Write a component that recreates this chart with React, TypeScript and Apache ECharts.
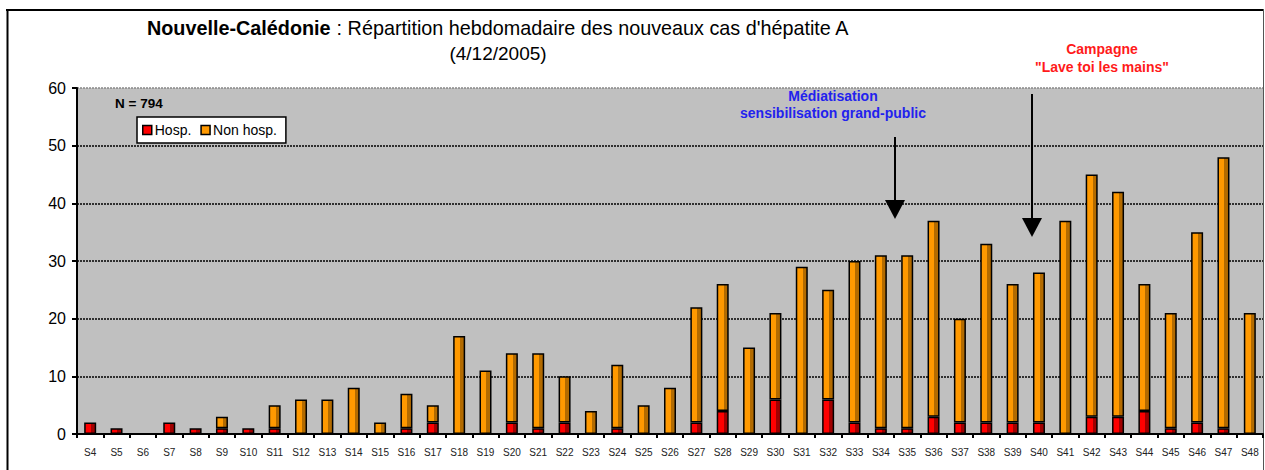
import React, { useEffect, useRef } from 'react';
import * as echarts from 'echarts';

const weeks = ['S4','S5','S6','S7','S8','S9','S10','S11','S12','S13','S14','S15','S16','S17','S18','S19','S20','S21','S22','S23','S24','S25','S26','S27','S28','S29','S30','S31','S32','S33','S34','S35','S36','S37','S38','S39','S40','S41','S42','S43','S44','S45','S46','S47','S48'];
const hosp = [2,1,0,2,1,1,1,1,0,0,0,0,1,2,0,0,2,1,2,0,1,0,0,2,4,0,6,0,6,2,1,1,3,2,2,2,2,0,3,3,4,1,2,1,0];
const nonHosp = [0,0,0,0,0,2,0,4,6,6,8,2,6,3,17,11,12,13,8,4,11,5,8,20,22,15,15,29,19,28,30,30,34,18,31,24,26,37,42,39,22,20,33,47,21];
const yTicks = [0, 10, 20, 30, 40, 50, 60];

const FONT = '"Liberation Sans", Arial, sans-serif';

function grad(c1: string, c2: string) {
  return new echarts.graphic.LinearGradient(0, 0, 1, 0, [
    { offset: 0, color: c1 },
    { offset: 0.58, color: c1 },
    { offset: 0.58, color: c2 },
    { offset: 1, color: c2 },
  ]);
}

export default function App() {
  const ref = useRef<HTMLDivElement>(null);
  useEffect(() => {
    if (!ref.current) return;
    const chart = echarts.init(ref.current, null, { renderer: 'svg' });
    const toData = (arr: number[]) => arr.map((v) => (v === 0 ? '-' : v));
    chart.setOption({
      animation: false,
      backgroundColor: '#ffffff',
      textStyle: { fontFamily: FONT },
      grid: {
        left: 77, top: 88, right: 2, bottom: 36,
        show: true, backgroundColor: '#c0c0c0', borderWidth: 0,
      },
      legend: {
        left: 137, top: 117,
        orient: 'horizontal',
        backgroundColor: '#ffffff', borderColor: '#000', borderWidth: 1.5,
        padding: [6, 9, 6, 5],
        itemWidth: 9, itemHeight: 9, itemGap: 9,
        icon: 'rect',
        textStyle: { fontSize: 14, color: '#000', fontFamily: FONT, padding: [0, 0, 0, -2] },
        data: [
          { name: 'Hosp.', itemStyle: { color: '#ff0000', borderColor: '#000', borderWidth: 1.5 } },
          { name: 'Non hosp.', itemStyle: { color: '#ff9900', borderColor: '#000', borderWidth: 1.5 } },
        ],
      },
      xAxis: {
        type: 'category',
        data: weeks,
        axisLine: { lineStyle: { color: '#000', width: 2 } },
        axisTick: { show: true, interval: 0, length: 4, lineStyle: { color: '#000', width: 2 } },
        axisLabel: { interval: 0, fontSize: 10, color: '#222', margin: 13, fontFamily: FONT },
      },
      yAxis: {
        type: 'value',
        min: yTicks[0], max: yTicks[yTicks.length - 1], interval: 10,
        axisLine: { show: true, lineStyle: { color: '#000', width: 2 } },
        axisTick: { show: true, length: 5, lineStyle: { color: '#000', width: 2 } },
        axisLabel: { fontSize: 16, color: '#000', margin: 11, fontFamily: FONT },
        splitLine: {
          show: true,
          lineStyle: { color: ['#000', '#000', '#000', '#000', '#000', '#000', '#888'], type: [2, 1], width: 1.5 },
        },
      },
      series: [
        {
          name: 'Hosp.', type: 'bar', stack: 'total', barWidth: 12,
          data: toData(hosp),
          itemStyle: { color: grad('#ff0000', '#a00000'), borderColor: '#000', borderWidth: 1.5 },
        },
        {
          name: 'Non hosp.', type: 'bar', stack: 'total', barWidth: 12,
          data: toData(nonHosp),
          itemStyle: { color: grad('#ff9900', '#b36b00'), borderColor: '#000', borderWidth: 1.5 },
        },
      ],
      graphic: [
        { type: 'line', shape: { x1: 6, y1: 10, x2: 1264, y2: 10 }, style: { stroke: '#000', lineWidth: 2 } },
        { type: 'line', shape: { x1: 7.5, y1: 9, x2: 7.5, y2: 470 }, style: { stroke: '#000', lineWidth: 2 } },
        { type: 'line', shape: { x1: 1263.5, y1: 9, x2: 1263.5, y2: 470 }, style: { stroke: '#555', lineWidth: 1 } },
        {
          type: 'text', x: 498, y: 28,
          style: {
            text: "{b|Nouvelle-Calédonie} : Répartition hebdomadaire des nouveaux cas d'hépatite A",
            rich: { b: { fontWeight: 'bold', fontSize: 19.8, fontFamily: FONT, fill: '#000' } },
            font: '19.8px ' + FONT, fill: '#000', textAlign: 'center', textVerticalAlign: 'middle',
          },
        },
        {
          type: 'text', x: 498, y: 53,
          style: { text: '(4/12/2005)', font: '19px ' + FONT, fill: '#000', textAlign: 'center', textVerticalAlign: 'middle' },
        },
        {
          type: 'text', x: 115, y: 103,
          style: { text: 'N = 794', font: 'bold 13.5px ' + FONT, fill: '#000', textAlign: 'left', textVerticalAlign: 'middle' },
        },
        {
          type: 'text', x: 833, y: 96,
          style: { text: 'Médiatisation', font: 'bold 14px ' + FONT, fill: '#2222ee', textAlign: 'center', textVerticalAlign: 'middle' },
        },
        {
          type: 'text', x: 833, y: 113,
          style: { text: 'sensibilisation grand-public', font: 'bold 14px ' + FONT, fill: '#2222ee', textAlign: 'center', textVerticalAlign: 'middle' },
        },
        {
          type: 'text', x: 1102, y: 49,
          style: { text: 'Campagne', font: 'bold 14px ' + FONT, fill: '#ff1a1a', textAlign: 'center', textVerticalAlign: 'middle' },
        },
        {
          type: 'text', x: 1102, y: 67,
          style: { text: '"Lave toi les mains"', font: 'bold 14px ' + FONT, fill: '#ff1a1a', textAlign: 'center', textVerticalAlign: 'middle' },
        },
        { type: 'line', shape: { x1: 895, y1: 137, x2: 895, y2: 202 }, style: { stroke: '#000', lineWidth: 2 } },
        { type: 'polygon', shape: { points: [[885, 200], [905, 200], [895, 219]] }, style: { fill: '#000' } },
        { type: 'line', shape: { x1: 1032, y1: 94, x2: 1032, y2: 220 }, style: { stroke: '#000', lineWidth: 2 } },
        { type: 'polygon', shape: { points: [[1022, 218], [1042, 218], [1032, 237]] }, style: { fill: '#000' } },
      ],
    });
    return () => chart.dispose();
  }, []);
  return <div ref={ref} style={{ position: 'absolute', left: 0, top: 0, width: 1265, height: 470 }} />;
}
